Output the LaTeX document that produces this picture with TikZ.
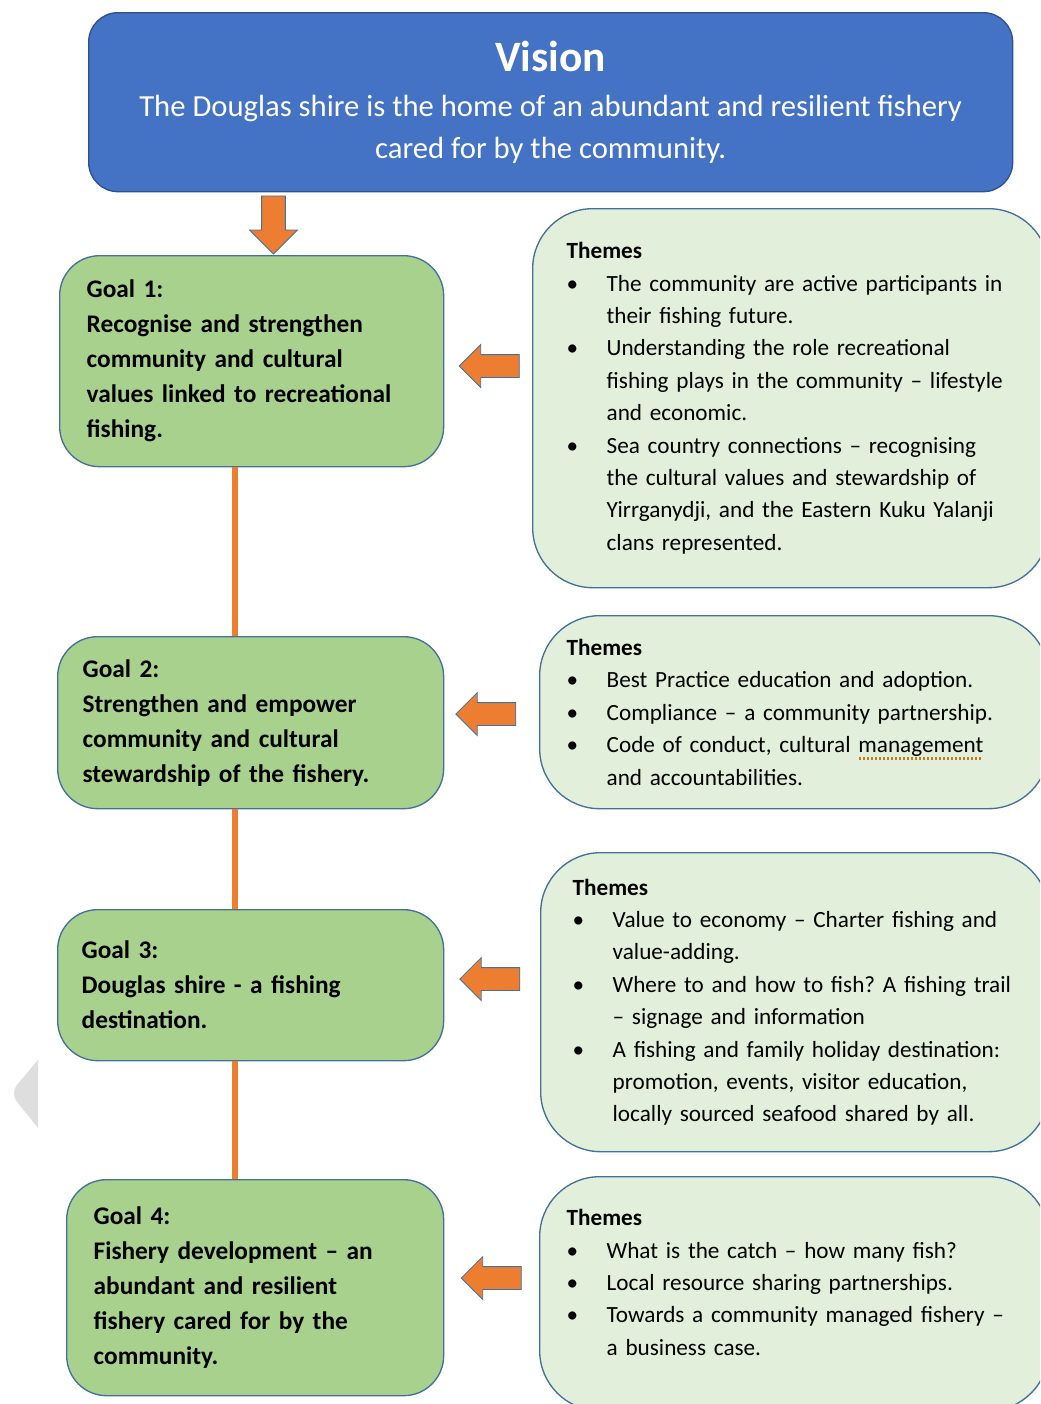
\documentclass[tikz,border=0pt]{standalone}
\usepackage{fontspec}
\setmainfont{Carlito}
\usepackage{xcolor}
\usetikzlibrary{shapes.arrows}
\frenchspacing

\definecolor{visionBlue}{HTML}{4472C4}
\definecolor{visionBorder}{HTML}{2F528F}
\definecolor{goalGreen}{HTML}{A9D18E}
\definecolor{themeGreen}{HTML}{E2EFDA}
\definecolor{boxBorder}{HTML}{41719C}
\definecolor{linkOrange}{HTML}{ED7D31}
\definecolor{sideGrey}{HTML}{DEDEDE}
\definecolor{dotBrown}{HTML}{C07A20}

\newcommand{\bul}{\makebox[30pt][l]{\textbullet}}
\newcommand{\ind}{\hspace*{30pt}}
\newsavebox{\wordbox}
\newcommand{\dotted}[1]{\sbox{\wordbox}{#1}\rlap{\color{dotBrown}\hbox to \wd\wordbox{\leaders\hbox to 3pt{\hss\vrule width 1.6pt height -3.6pt depth 5.2pt\hss}\hfill}}\usebox{\wordbox}}

\begin{document}
\begin{tikzpicture}[x=0.75pt, y=-0.75pt,
  visionStyle/.style={draw=visionBorder, fill=visionBlue, line width=1pt, rounded corners=22pt, text=white, align=center, anchor=north west, inner sep=0pt, font=\fontsize{23}{31.5}\selectfont},
  goalStyle/.style={draw=boxBorder, fill=goalGreen, line width=1pt, rounded corners=30pt, align=left, anchor=north west, inner ysep=0pt, font=\fontsize{19}{26.25}\selectfont\bfseries},
  themeStyle/.style={draw=boxBorder, fill=themeGreen, line width=1pt, rounded corners=45pt, align=left, anchor=north west, inner ysep=0pt, font=\fontsize{17.4}{24.3}\selectfont},
  blockArrow/.style={single arrow, draw=boxBorder, fill=linkOrange, line width=0.6pt, inner sep=8.25pt, single arrow head extend=7.5pt, minimum height=45pt},
  spineLine/.style={linkOrange, line width=4.5pt}
]
\clip (0,0) rectangle (1040,1404);

\fill[sideGrey] (38,1060) [rounded corners=8pt] -- (10,1093) [sharp corners] -- (38,1128) -- cycle;

\node (vision) [visionStyle, minimum width=693pt, minimum height=134.25pt] at (88,12)
  {{\fontsize{32.5}{39}\selectfont\bfseries Vision}\\[2.5pt]
   The Douglas shire is the home of an abundant and resilient fishery\\
   cared for by the community.};

\node (goalOne) [goalStyle, minimum width=288pt, minimum height=158.25pt, text width=247.5pt, inner xsep=20.25pt] at (59,255)
  {Goal 1:\\Recognise and strengthen\\community and cultural\\values linked to recreational\\fishing.};
\node (goalTwo) [goalStyle, minimum width=289.5pt, minimum height=129pt, text width=252pt, inner xsep=18.75pt] at (57,636)
  {Goal 2:\\Strengthen and empower\\community and cultural\\stewardship of the fishery.};
\node (goalThree) [goalStyle, minimum width=289.5pt, minimum height=113.25pt, text width=253.5pt, inner xsep=18pt] at (57,909)
  {Goal 3:\\Douglas shire - a fishing\\destination.};
\node (goalFour) [goalStyle, minimum width=282.75pt, minimum height=162pt, text width=242.25pt, inner xsep=20.25pt] at (66,1179)
  {Goal 4:\\Fishery development – an\\abundant and resilient\\fishery cared for by the\\community.};

\node (themeOne) [themeStyle, minimum width=387pt, minimum height=284.25pt, text width=336pt, inner xsep=25.5pt] at (532,208)
  {\textbf{Themes}\\
   \bul The community are active participants in\\
   \ind their fishing future.\\
   \bul Understanding the role recreational\\
   \ind fishing plays in the community – lifestyle\\
   \ind and economic.\\
   \bul Sea country connections – recognising\\
   \ind the cultural values and stewardship of\\
   \ind Yirrganydji, and the Eastern Kuku Yalanji\\
   \ind clans represented.};
\node (themeTwo) [themeStyle, minimum width=381.75pt, minimum height=144.75pt, text width=341.25pt, inner xsep=20.25pt] at (539,615)
  {\textbf{Themes}\\
   \bul Best Practice education and adoption.\\
   \bul Compliance – a community partnership.\\
   \bul Code of conduct, cultural \dotted{management}\\
   \ind and accountabilities.};
\node (themeThree) [themeStyle, minimum width=381pt, minimum height=224.25pt, text width=333pt, inner xsep=24pt] at (540,852)
  {\textbf{Themes}\\
   \bul Value to economy – Charter fishing and\\
   \ind value-adding.\\
   \bul Where to and how to fish? A fishing trail\\
   \ind – signage and information\\
   \bul A fishing and family holiday destination:\\
   \ind promotion, events, visitor education,\\
   \ind locally sourced seafood shared by all.};
\node (themeFour) [themeStyle, minimum width=381.75pt, minimum height=175.5pt, text width=341.25pt, inner xsep=20.25pt] at (539,1176)
  {\textbf{Themes}\\
   \bul What is the catch – how many fish?\\
   \bul Local resource sharing partnerships.\\
   \bul Towards a community managed fishery –\\
   \ind a business case.\rule[-17pt]{0pt}{0pt}};

\node (arrowDown) [blockArrow, shape border rotate=270, minimum height=43.5pt, inner sep=8.6pt, single arrow head extend=9pt] at (273.5,219) {};
\node (arrowOne) [blockArrow, shape border rotate=180] at (495,366) {};
\node (arrowTwo) [blockArrow, shape border rotate=180] at (491.5,714) {};
\node (arrowThree) [blockArrow, shape border rotate=180] at (495.5,979) {};
\node (arrowFour) [blockArrow, shape border rotate=180] at (497,1278) {};

\coordinate (spine) at (235,0);
\draw[spineLine] (goalOne.south -| spine) -- (goalTwo.north -| spine);
\draw[spineLine] (goalTwo.south -| spine) -- (goalThree.north -| spine);
\draw[spineLine] (goalThree.south -| spine) -- (goalFour.north -| spine);
\end{tikzpicture}
\end{document}
